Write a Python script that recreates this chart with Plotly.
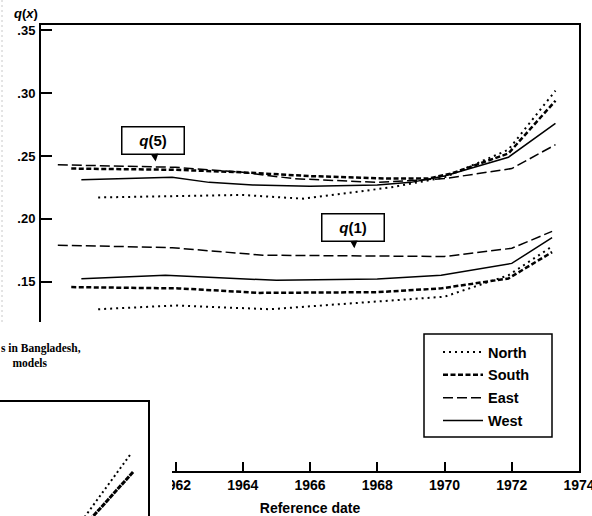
import plotly.graph_objects as go

W, H = 592, 516

# ---- q(5) series (reference date, probability) ----
n5_yr = [1959.7, 1962.0, 1964.0, 1965.8, 1968.4, 1970.0, 1971.9, 1973.3]
n5_q = [0.217, 0.218, 0.219, 0.216, 0.225, 0.233, 0.255, 0.302]
s5_yr = [1958.9, 1962.0, 1964.0, 1966.0, 1968.3, 1969.5, 1970.2, 1971.9, 1973.3]
s5_q = [0.240, 0.239, 0.237, 0.234, 0.232, 0.232, 0.236, 0.252, 0.294]
e5_yr = [1958.5, 1962.0, 1964.0, 1965.5, 1968.0, 1970.0, 1972.0, 1973.3]
e5_q = [0.243, 0.241, 0.237, 0.232, 0.229, 0.232, 0.240, 0.259]
w5_yr = [1959.2, 1961.9, 1963.0, 1964.3, 1966.0, 1968.0, 1969.0, 1970.0, 1971.9, 1973.3]
w5_q = [0.231, 0.233, 0.229, 0.227, 0.226, 0.227, 0.229, 0.234, 0.249, 0.276]

# ---- q(1) series ----
n1_yr = [1959.7, 1962.0, 1964.8, 1968.3, 1970.0, 1971.9, 1973.2]
n1_q = [0.128, 0.131, 0.128, 0.135, 0.138, 0.155, 0.178]
s1_yr = [1958.9, 1962.1, 1964.5, 1968.0, 1969.9, 1971.9, 1973.2]
s1_q = [0.1456, 0.1446, 0.141, 0.1416, 0.1446, 0.1525, 0.1735]
e1_yr = [1958.5, 1961.9, 1964.6, 1970.0, 1972.0, 1973.2]
e1_q = [0.179, 0.177, 0.171, 0.170, 0.1765, 0.190]
w1_yr = [1959.2, 1961.7, 1963.3, 1965.0, 1968.0, 1969.9, 1972.0, 1973.2]
w1_q = [0.1523, 0.155, 0.153, 0.151, 0.152, 0.155, 0.1645, 0.185]

regions = ["North", "South", "East", "West"]
x_ticks = list(range(1962, 1975, 2))
y_ticks = [0.15, 0.20, 0.25, 0.30, 0.35]
y_ticktext = [".15", ".20", ".25", ".30", ".35"]

# fragment of the neighbouring figure (inset units 0..1)
inset_a_x = [0.878, 0.56]
inset_a_y = [0.535, -0.03]
inset_b_x = [0.899, 0.80, 0.70, 0.61]
inset_b_y = [0.386, 0.245, 0.095, -0.03]

styles = {
    "North": dict(dash="2px,4px", width=2),
    "South": dict(dash="5px,2.5px", width=2.5),
    "East": dict(dash="10px,4px", width=1.5),
    "West": dict(dash="solid", width=1.5),
}
data = {
    "North": (n5_yr, n5_q, n1_yr, n1_q),
    "South": (s5_yr, s5_q, s1_yr, s1_q),
    "East": (e5_yr, e5_q, e1_yr, e1_q),
    "West": (w5_yr, w5_q, w1_yr, w1_q),
}

fig = go.Figure()
for r in regions:
    yr5, q5, yr1, q1 = data[r]
    fig.add_trace(go.Scatter(x=yr5, y=q5, mode="lines", name=r, legendgroup=r,
                             line=dict(color="black", **styles[r]), hoverinfo="skip"))
    fig.add_trace(go.Scatter(x=yr1, y=q1, mode="lines", name=r, legendgroup=r,
                             showlegend=False,
                             line=dict(color="black", **styles[r]), hoverinfo="skip"))

# white page overlay (lower left)
fig.add_trace(go.Scatter(x=[-0.1, 1.1, 1.1, -0.1, -0.1], y=[-0.1, -0.1, 1.1, 1.1, -0.1],
                         xaxis="x2", yaxis="y2", mode="lines", fill="toself",
                         fillcolor="white", line=dict(width=0, color="white"),
                         showlegend=False, hoverinfo="skip"))
# neighbouring figure fragment
fig.add_trace(go.Scatter(x=inset_a_x, y=inset_a_y, xaxis="x3", yaxis="y3", mode="lines",
                         line=dict(color="black", dash="2px,3px", width=2),
                         showlegend=False, hoverinfo="skip"))
fig.add_trace(go.Scatter(x=inset_b_x, y=inset_b_y, xaxis="x3", yaxis="y3", mode="lines",
                         line=dict(color="black", dash="5px,1px", width=3),
                         showlegend=False, hoverinfo="skip"))

bold = dict(family="Liberation Sans", color="black", weight="bold")

fig.update_layout(
    template="none",
    width=W, height=H, autosize=False,
    margin=dict(l=0, r=0, t=0, b=0, pad=0, autoexpand=False),
    paper_bgcolor="white", plot_bgcolor="white",
    showlegend=True,
    legend=dict(x=424 / W, y=1 - 336 / H, xanchor="left", yanchor="top",
                borderwidth=0, bgcolor="rgba(0,0,0,0)",
                font=dict(size=14.5, **bold), tracegroupgap=1, itemwidth=40,
                indentation=14, traceorder="grouped"),
    xaxis=dict(domain=[41 / W, 579 / W], range=[1958, 1974], showline=True, linewidth=2,
               linecolor="black", mirror=True, ticks="inside", ticklen=9, tickwidth=1.5,
               tickcolor="black", tickvals=x_ticks, tickfont=dict(size=14, **bold),
               showgrid=False, zeroline=False, automargin=False, ticklabeloverflow="allow",
               title=dict(text="Reference date", font=dict(size=14, **bold), standoff=11)),
    yaxis=dict(domain=[1 - 471 / H, 1 - 25 / H], range=[-0.0008, 0.3543], showline=True,
               linewidth=2, linecolor="black", mirror=True, ticks="inside", ticklen=11,
               tickwidth=1.5, tickcolor="black", tickvals=y_ticks, ticktext=y_ticktext,
               tickfont=dict(size=13, **bold), showgrid=False, zeroline=False,
               ticklabelstandoff=1, automargin=False, ticklabeloverflow="allow"),
    xaxis2=dict(domain=[0, 172 / W], range=[0, 1], visible=False, anchor="y2", fixedrange=True,
                automargin=False),
    yaxis2=dict(domain=[0, 1 - 322 / H], range=[0, 1], visible=False, anchor="x2", fixedrange=True,
                automargin=False),
    xaxis3=dict(domain=[0, 148 / W], range=[0, 1], anchor="y3", side="top", showline=True,
                linewidth=1.5, linecolor="black", showticklabels=False, ticks="",
                showgrid=False, zeroline=False, fixedrange=True, automargin=False),
    yaxis3=dict(domain=[0, 114 / H], range=[0, 1], anchor="x3", side="right", showline=True,
                linewidth=1.5, linecolor="black", showticklabels=False, ticks="",
                showgrid=False, zeroline=False, fixedrange=True, automargin=False),
)

annos = [
    dict(text="<b><i>q</i>(<i>x</i>)</b>", xref="paper", yref="paper", x=12 / W, y=1 - 13 / H,
         xanchor="left", yanchor="middle", showarrow=False, font=dict(size=13, family="Liberation Sans", color="black")),
    dict(text="<b><i>q</i>(5)</b>", x=1961.41, y=0.2457, xref="x", yref="y", ax=-3, ay=-21,
         showarrow=True, arrowhead=2, arrowsize=1, arrowwidth=1.5, arrowcolor="black",
         bordercolor="black", borderwidth=1.5, borderpad=2, bgcolor="white", width=57, height=22,
         font=dict(size=15, family="Liberation Sans", color="black"), standoff=0),
    dict(text="<b><i>q</i>(1)</b>", x=1967.32, y=0.1765, xref="x", yref="y", ax=-1.5, ay=-21,
         showarrow=True, arrowhead=2, arrowsize=1, arrowwidth=1.5, arrowcolor="black",
         bordercolor="black", borderwidth=1.5, borderpad=2, bgcolor="white", width=57, height=22,
         font=dict(size=15, family="Liberation Sans", color="black"), standoff=0),
    dict(text="<b>s in Bangladesh,<br>&nbsp;&nbsp;&nbsp;&nbsp;models</b>", xref="paper", yref="paper",
         x=0, y=1 - 355 / H, xanchor="left", yanchor="middle", align="left", showarrow=False,
         borderpad=0, font=dict(size=11.5, family="Liberation Serif", color="black")),
]
fig.update_layout(annotations=annos)

# legend frame
fig.add_shape(type="rect", xref="paper", yref="paper", x0=424 / W, x1=552 / W,
              y0=1 - 437 / H, y1=1 - 334 / H, line=dict(color="black", width=1.5),
              fillcolor="rgba(0,0,0,0)", layer="above")
# faint page edge
fig.add_shape(type="line", xref="paper", yref="paper", x0=2 / W, x1=2 / W, y0=1, y1=1 - 322 / H,
              line=dict(color="#c8c8c8", width=1, dash="2px,3px"), layer="above")

fig.write_html("out.html", config={"displayModeBar": False},
               post_script="document.body.style.margin='0';document.body.style.padding='0';")
